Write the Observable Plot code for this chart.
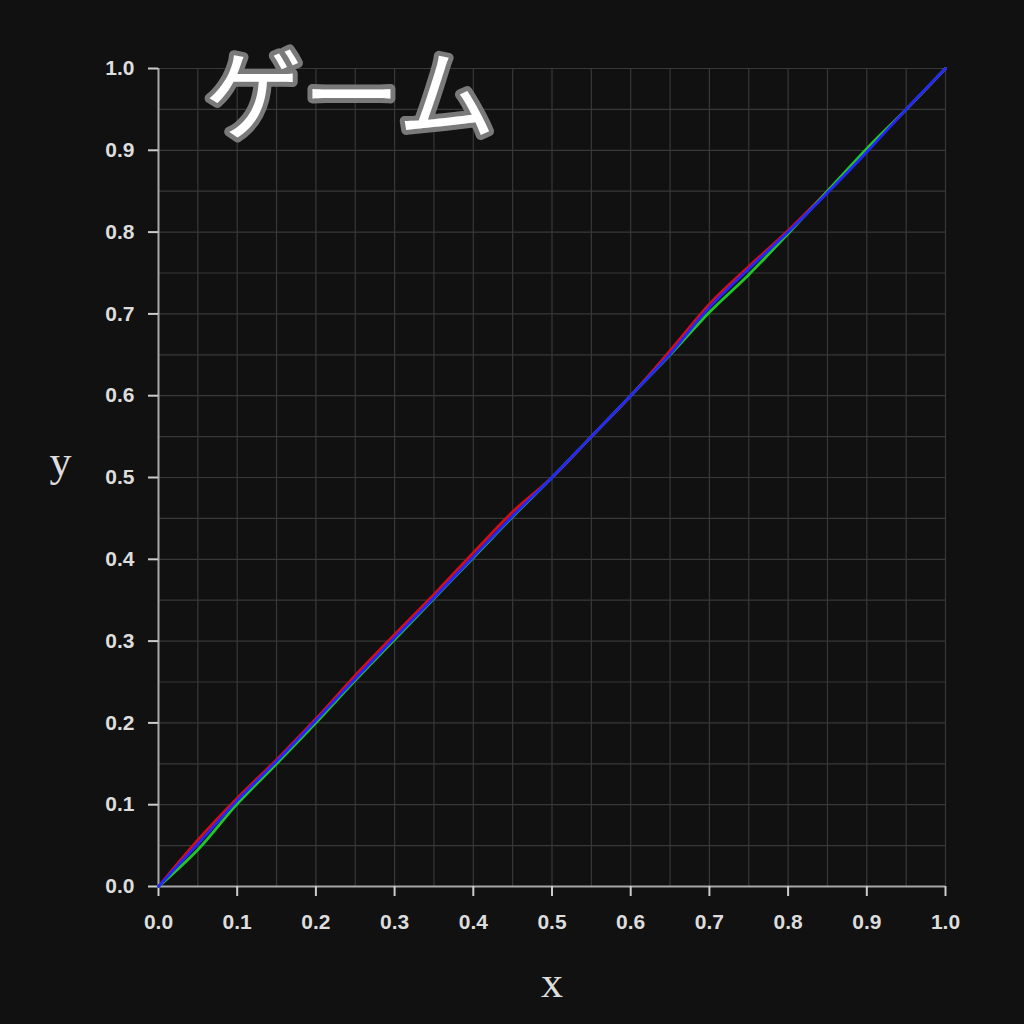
<!DOCTYPE html>
<html>
<head>
<meta charset="utf-8">
<script src="https://cdn.jsdelivr.net/npm/d3@7"></script>
<script src="https://cdn.jsdelivr.net/npm/@observablehq/plot@0.6"></script>
<style>
  html, body { margin: 0; padding: 0; background: #111111; }
  #chart { width: 1024px; height: 1024px; }
</style>
</head>
<body>
<div id="chart"></div>
<script>
const title = "ゲーム";
const xLabel = "x";
const yLabel = "y";
const ticks = [0, 0.1, 0.2, 0.3, 0.4, 0.5, 0.6, 0.7, 0.8, 0.9, 1.0];
const gridSteps = [0, 0.05, 0.1, 0.15, 0.2, 0.25, 0.3, 0.35, 0.4, 0.45, 0.5, 0.55, 0.6, 0.65, 0.7, 0.75, 0.8, 0.85, 0.9, 0.95, 1.0];

const xs    = [0, 0.05, 0.1, 0.15, 0.2, 0.25, 0.3, 0.35, 0.4, 0.45, 0.5, 0.55, 0.6, 0.65, 0.7, 0.75, 0.8, 0.85, 0.9, 0.95, 1.0];
const red   = [0, 0.057, 0.108, 0.155, 0.205, 0.258, 0.308, 0.357, 0.408, 0.458, 0.500, 0.550, 0.600, 0.655, 0.712, 0.758, 0.802, 0.850, 0.900, 0.950, 1.0];
const green = [0, 0.045, 0.101, 0.150, 0.200, 0.252, 0.302, 0.352, 0.402, 0.452, 0.500, 0.550, 0.600, 0.650, 0.702, 0.748, 0.798, 0.850, 0.902, 0.950, 1.0];
const blue  = [0, 0.052, 0.105, 0.153, 0.203, 0.254, 0.304, 0.353, 0.403, 0.453, 0.500, 0.550, 0.600, 0.651, 0.708, 0.755, 0.800, 0.848, 0.898, 0.950, 1.0];

const seriesNames = ["R", "G", "B"];
const seriesColors = ["#d01018", "#22c822", "#2424ff"];
const seriesValues = [red, green, blue];

const rows = [];
seriesNames.forEach((name, i) => {
  xs.forEach((x, j) => rows.push({series: name, x, y: seriesValues[i][j]}));
});

const fontTicks = "'Liberation Sans', Arial, sans-serif";
const fontSerif = "'Liberation Serif', 'DejaVu Serif', serif";

const chart = Plot.plot({
  width: 1024,
  height: 1024,
  marginLeft: 158,
  marginRight: 79,
  marginTop: 68,
  marginBottom: 138,
  style: { background: "#111111", color: "#dddddd", fontFamily: fontTicks },
  x: { domain: [0, 1] },
  y: { domain: [0, 1] },
  color: { domain: seriesNames, range: seriesColors },
  marks: [
    Plot.gridX(gridSteps, { stroke: "#383838", strokeOpacity: 1, strokeWidth: 1.2 }),
    Plot.gridY(gridSteps, { stroke: "#383838", strokeOpacity: 1, strokeWidth: 1.2 }),
    Plot.ruleX([0], { stroke: "#a8a8a8", strokeWidth: 2 }),
    Plot.ruleY([0], { stroke: "#a8a8a8", strokeWidth: 2 }),
    Plot.axisX(ticks, {
      tickFormat: d3.format(".1f"), tickSize: 10, tickPadding: 18, label: null,
      fontSize: 21, fontWeight: "bold", stroke: "#cccccc", strokeWidth: 2, fill: "#dddddd"
    }),
    Plot.axisY(ticks, {
      tickFormat: d3.format(".1f"), tickSize: 10, tickPadding: 14, label: null,
      fontSize: 21, fontWeight: "bold", stroke: "#cccccc", strokeWidth: 2, fill: "#dddddd"
    }),
    Plot.line(rows, { x: "x", y: "y", z: "series", stroke: "series", strokeWidth: 2.8, curve: "catmull-rom" }),
    Plot.text([xLabel], { frameAnchor: "bottom", dy: 110, fontSize: 44, fontFamily: fontSerif, fill: "#dddddd" }),
    Plot.text([yLabel], { frameAnchor: "left", dx: -109, dy: -16, fontSize: 44, fontFamily: fontSerif, fill: "#dddddd" }),
    Plot.text([title], {
      frameAnchor: "top-left", textAnchor: "start", dx: 46, dy: -7,
      fontSize: 98, fontFamily: "'Noto Sans CJK JP', sans-serif", fontWeight: 400,
      fill: "#ffffff", stroke: "#7a7a7a", strokeWidth: 10, strokeLinejoin: "round"
    })
  ]
});
document.getElementById("chart").appendChild(chart);
</script>
</body>
</html>
